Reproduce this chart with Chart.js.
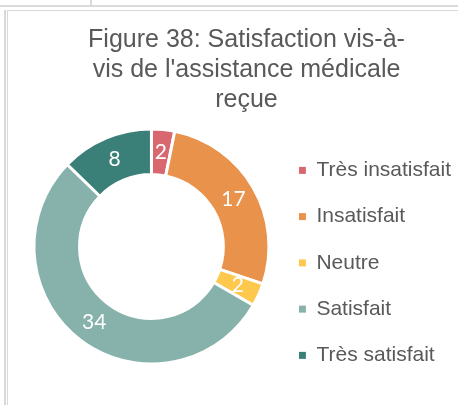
<!DOCTYPE html>
<html lang="fr">
<head>
<meta charset="utf-8">
<title>Figure 38 - Satisfaction</title>
<script src="https://cdn.jsdelivr.net/npm/chart.js@4.4.1/dist/chart.umd.min.js"></script>
<style>
  html, body { margin:0; padding:0; background:#fff; overflow:hidden; }
  body { width:458px; height:405px; position:relative; }
  .ln { position:absolute; background:#d9d9d9; }
  #wrap { position:absolute; left:0; top:0; width:470px; height:405px; }
</style>
</head>
<body>
<!-- cell borders around the chart -->
<div class="ln" style="left:0;top:5px;width:458px;height:2px"></div>
<div class="ln" style="left:90px;top:0;width:2px;height:5px"></div>
<div class="ln" style="left:4px;top:10px;width:2px;height:395px"></div>
<div class="ln" style="left:7px;top:10px;width:451px;height:1px"></div>
<div class="ln" style="left:7px;top:10px;width:1px;height:395px"></div>
<div id="wrap"><canvas id="satisfactionChart"></canvas></div>
<script>
const labels = ['Très insatisfait', 'Insatisfait', 'Neutre', 'Satisfait', 'Très satisfait'];
const counts = [2, 17, 2, 34, 8];
const colors = ['#D9676F', '#E8924C', '#FEC84C', '#86B2AB', '#3A8078'];
const titleLines = ['Figure 38: Satisfaction vis-à-', "vis de l'assistance médicale", 'reçue'];

const FONT = "'Liberation Sans', Arial, sans-serif";

// small offsets applied once the layout is done (title centre, legend height)
const nudge = {
  id: 'nudge',
  afterLayout(chart, args, opts) {
    const t = chart.titleBlock, l = chart.legend;
    if (t) { t.left += opts.titleDx || 0; t.right += opts.titleDx || 0; }
    if (l) {
      l.left += opts.legendDx || 0; l.right += opts.legendDx || 0;
      l.top += opts.legendDy || 0; l.bottom += opts.legendDy || 0;
    }
  }
};

// white values in the middle of each slice
const valueLabels = {
  id: 'valueLabels',
  afterDatasetsDraw(chart) {
    const ctx = chart.ctx;
    const meta = chart.getDatasetMeta(0);
    ctx.save();
    ctx.fillStyle = '#fff';
    ctx.font = "21px Lato, 'Liberation Sans', sans-serif";
    ctx.textAlign = 'center';
    ctx.textBaseline = 'middle';
    meta.data.forEach((arc, i) => {
      const p = arc.tooltipPosition();
      ctx.fillText(String(chart.data.datasets[0].data[i]), p.x, p.y);
    });
    ctx.restore();
  }
};

const ctx = document.getElementById('satisfactionChart').getContext('2d');
new Chart(ctx, {
  type: 'doughnut',
  data: {
    labels,
    datasets: [{
      data: counts,
      backgroundColor: colors,
      borderColor: '#fff',
      borderWidth: 3,
      radius: 117.5,
      cutout: 76.5
    }]
  },
  options: {
    responsive: true,
    maintainAspectRatio: false,
    animation: false,
    layout: { padding: { left: 2, right: 7, top: 0, bottom: 32 } },
    plugins: {
      title: {
        display: true,
        text: titleLines,
        color: '#595959',
        font: { family: FONT, size: 25, weight: 'normal', lineHeight: 1.2 },
        padding: { top: 25, bottom: 5 }
      },
      legend: {
        position: 'right',
        labels: {
          boxWidth: 7,
          boxHeight: 7,
          padding: 0,
          color: '#595959',
          font: { family: FONT, size: 21, lineHeight: 46.25 / 21 },
          generateLabels(chart) {
            const items = Chart.overrides.doughnut.plugins.legend.labels.generateLabels(chart);
            return items.map(it => ({ ...it, text: [it.text], lineWidth: 0 }));
          }
        }
      },
      tooltip: { enabled: false },
      nudge: { titleDx: 14, legendDx: -2, legendDy: 89 }
    }
  },
  plugins: [nudge, valueLabels]
});
</script>
</body>
</html>
